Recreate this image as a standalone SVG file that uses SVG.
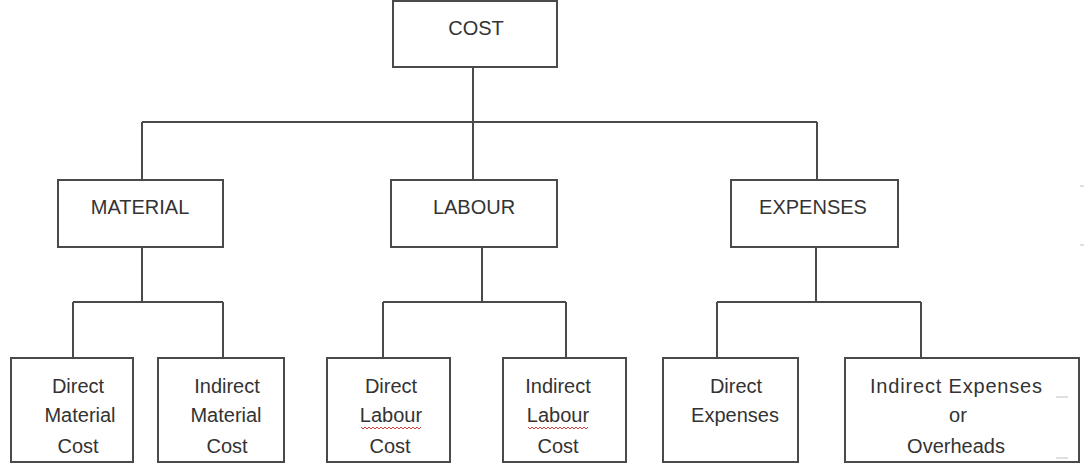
<svg xmlns="http://www.w3.org/2000/svg" width="1084" height="468" viewBox="0 0 1084 468">
<style>
.box{fill:#fff;stroke:#4a4a4a;stroke-width:2}
.ln{fill:none;stroke:#4a4a4a;stroke-width:2}
.t{font-family:"Liberation Sans",Arial,sans-serif;font-size:20px;fill:#333;text-anchor:middle}
.sq{fill:none;stroke:#d04040;stroke-width:1}
.mk{stroke:#e0e0e0;stroke-width:2}
</style>
<rect width="1084" height="468" fill="#fff"/>
<g id="connectors">
<path class="ln" d="M473 67V122M142 122H817M142 122V180M473 122V180M817 122V180"/>
<path class="ln" d="M142 247V302M73 302H223M73 302V358M223 302V358"/>
<path class="ln" d="M482 247V302M383 302H566M383 302V358M566 302V358"/>
<path class="ln" d="M816 247V302M717 302H921M717 302V358M921 302V358"/>
</g>
<g id="cost"><rect class="box" x="393" y="1" width="164" height="66"/><text class="t" x="476" y="35">COST</text></g>
<g id="material"><rect class="box" x="58" y="180" width="165" height="67"/><text class="t" x="140" y="214">MATERIAL</text></g>
<g id="labour"><rect class="box" x="391" y="180" width="166" height="67"/><text class="t" x="474" y="214">LABOUR</text></g>
<g id="expenses"><rect class="box" x="731" y="180" width="167" height="67"/><text class="t" x="813" y="214">EXPENSES</text></g>
<g id="direct-material"><rect class="box" x="11" y="358" width="122" height="104"/>
<text class="t" x="78" y="393">Direct</text><text class="t" x="80" y="422">Material</text><text class="t" x="78" y="453">Cost</text></g>
<g id="indirect-material"><rect class="box" x="158" y="358" width="126" height="104"/>
<text class="t" x="227" y="393">Indirect</text><text class="t" x="226" y="422">Material</text><text class="t" x="227" y="453">Cost</text></g>
<g id="direct-labour"><rect class="box" x="327" y="358" width="123" height="104"/>
<text class="t" x="391" y="393">Direct</text><text class="t" x="391" y="422">Labour</text><text class="t" x="390" y="453">Cost</text>
<path class="sq" d="M361 427l2 2 2-2 2 2 2-2 2 2 2-2 2 2 2-2 2 2 2-2 2 2 2-2 2 2 2-2 2 2 2-2 2 2 2-2 2 2 2-2 2 2 2-2 2 2 2-2 2 2 2-2 2 2 2-2 2 2 2-2"/></g>
<g id="indirect-labour"><rect class="box" x="503" y="358" width="123" height="104"/>
<text class="t" x="558" y="393">Indirect</text><text class="t" x="558" y="422">Labour</text><text class="t" x="558" y="453">Cost</text>
<path class="sq" d="M528 427l2 2 2-2 2 2 2-2 2 2 2-2 2 2 2-2 2 2 2-2 2 2 2-2 2 2 2-2 2 2 2-2 2 2 2-2 2 2 2-2 2 2 2-2 2 2 2-2 2 2 2-2 2 2 2-2 2 2 2-2"/></g>
<g id="direct-expenses"><rect class="box" x="663" y="358" width="135" height="104"/>
<text class="t" x="736" y="393">Direct</text><text class="t" x="735" y="422">Expenses</text></g>
<g id="indirect-expenses"><rect class="box" x="845" y="358" width="234" height="104"/>
<text class="t" x="956" y="393" textLength="172" lengthAdjust="spacing">Indirect  Expenses</text><text class="t" x="958" y="422">or</text><text class="t" x="956" y="453">Overheads</text></g>
<g id="marks">
<line class="mk" x1="1056" y1="397" x2="1068" y2="397"/>
<line class="mk" x1="1056" y1="458" x2="1068" y2="458"/>
<line class="mk" x1="1080" y1="245" x2="1084" y2="245"/>
<line class="mk" x1="1080" y1="186" x2="1084" y2="186"/>
</g>
</svg>
